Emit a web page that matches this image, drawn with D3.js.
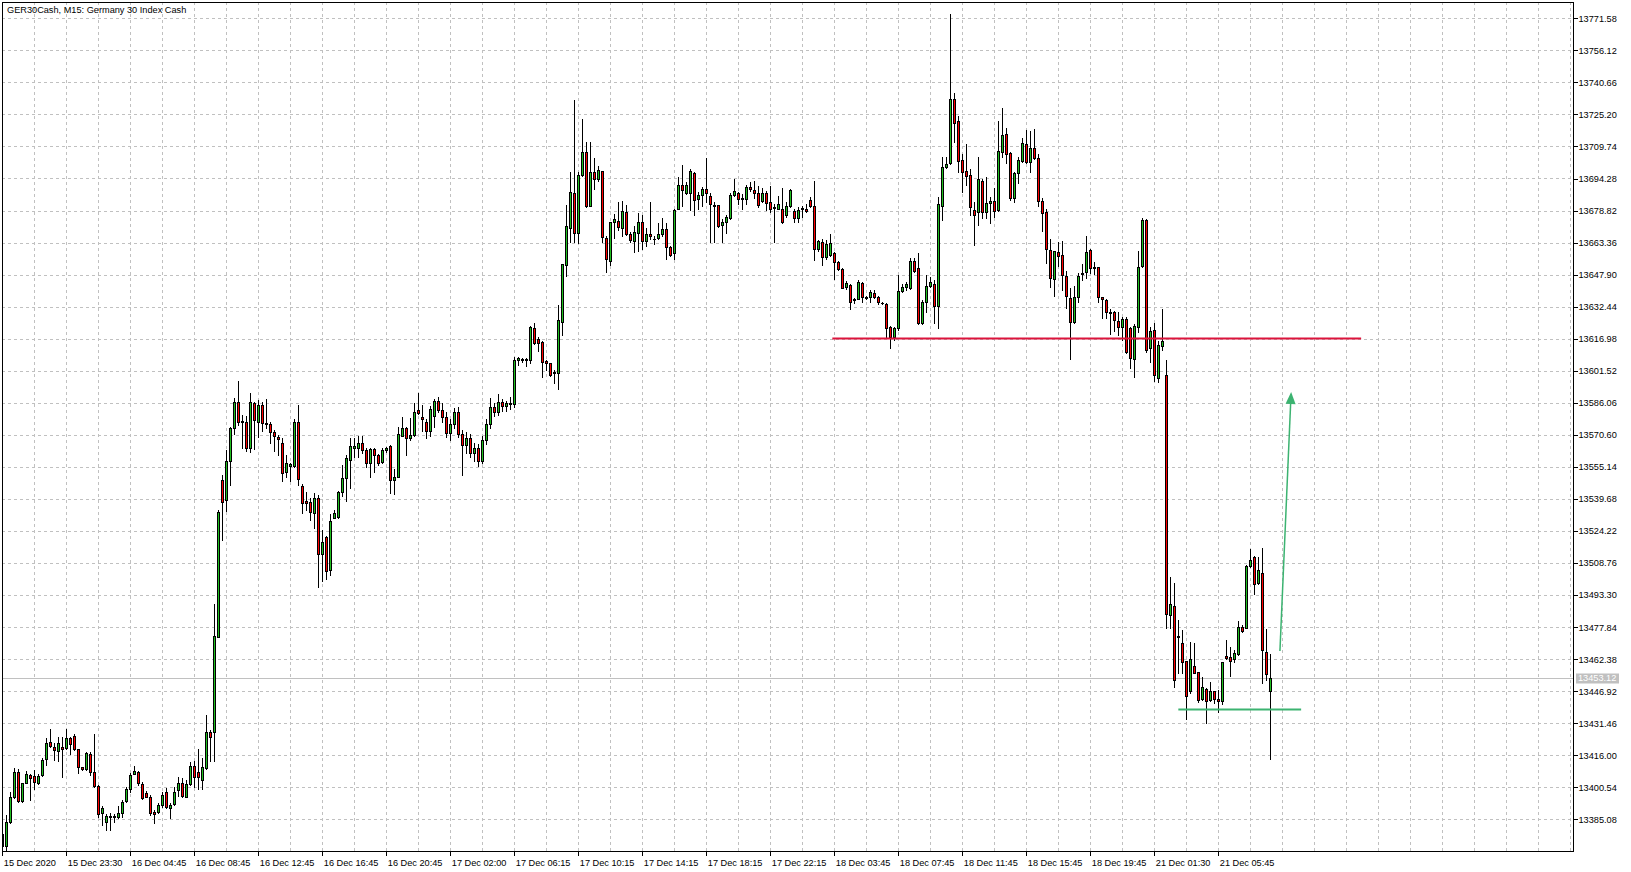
<!DOCTYPE html>
<html><head><meta charset="utf-8">
<script src="https://cdn.jsdelivr.net/npm/d3@7"></script>
<style>
html,body{margin:0;padding:0;background:#fff;overflow:hidden}
svg{display:block}
text{font-family:"Liberation Sans",Arial,sans-serif;font-size:9.2px;fill:#000}
</style>
</head><body><svg id="c" width="1631" height="872"></svg>
<script>
const title = "GER30Cash, M15:  Germany 30 Index Cash";
const opens = [13378.0,13372.0,13383.9,13395.7,13407.7,13393.9,13402.8,13406.5,13405.8,13402.8,13406.5,13414.2,13422.2,13420.1,13418.2,13419.8,13419.3,13424.2,13425.3,13418.8,13410.2,13409.4,13416.4,13408.1,13401.3,13388.0,13384.0,13386.8,13386.6,13386.0,13388.0,13393.9,13399.5,13407.0,13408.1,13402.0,13397.9,13396.0,13388.4,13388.8,13392.0,13398.4,13390.6,13392.3,13399.2,13402.4,13396.0,13402.0,13410.8,13408.1,13404.1,13409.7,13427.0,13427.4,13473.2,13548.8,13539.2,13558.1,13573.7,13586.3,13577.3,13577.0,13564.4,13585.8,13577.0,13585.0,13576.2,13575.7,13571.8,13569.4,13566.5,13552.5,13555.7,13555.7,13576.6,13546.1,13538.7,13538.0,13532.7,13540.0,13512.9,13521.5,13505.4,13530.3,13530.8,13543.2,13549.6,13558.5,13564.4,13564.4,13566.5,13563.3,13556.9,13563.6,13560.9,13557.3,13563.3,13565.2,13548.8,13550.4,13570.2,13573.7,13568.9,13570.4,13582.6,13579.4,13576.6,13572.6,13579.7,13586.9,13582.6,13579.0,13571.5,13576.0,13581.5,13571.0,13565.5,13569.0,13562.0,13564.0,13558.0,13568.0,13576.0,13584.0,13581.5,13586.5,13584.5,13586.0,13585.5,13606.5,13607.3,13606.9,13606.5,13622.3,13617.0,13615.6,13606.2,13605.1,13600.9,13600.6,13625.2,13652.6,13670.6,13687.1,13668.1,13695.9,13707.3,13681.1,13697.2,13694.0,13697.7,13665.8,13654.5,13673.1,13674.0,13670.6,13678.0,13667.4,13663.9,13668.2,13673.1,13664.2,13667.4,13665.3,13665.8,13667.4,13670.1,13661.0,13658.1,13679.8,13691.1,13687.1,13687.5,13696.9,13684.3,13686.4,13689.1,13685.9,13681.4,13681.4,13671.7,13673.5,13675.0,13686.4,13687.5,13684.9,13684.6,13690.4,13688.6,13687.5,13683.2,13687.5,13682.7,13680.3,13679.8,13679.5,13676.6,13681.1,13678.4,13675.3,13679.5,13679.8,13683.8,13680.8,13660.2,13663.4,13656.6,13657.3,13658.1,13654.2,13650.5,13642.1,13642.9,13635.5,13636.3,13644.0,13636.9,13636.9,13638.9,13636.9,13634.4,13633.7,13622.8,13618.0,13622.0,13640.2,13642.1,13641.3,13654.5,13650.9,13624.7,13634.5,13642.6,13643.2,13632.8,13681.2,13700.0,13701.6,13732.5,13722.0,13703.2,13697.9,13696.0,13679.1,13678.0,13693.1,13678.3,13682.3,13683.6,13679.1,13707.2,13715.6,13706.8,13685.0,13696.8,13702.9,13710.8,13702.4,13708.8,13704.0,13683.6,13678.0,13659.8,13645.6,13659.0,13657.2,13647.4,13636.5,13625.2,13637.3,13648.3,13649.0,13659.8,13651.7,13651.4,13637.0,13635.7,13629.9,13629.7,13625.5,13622.8,13626.5,13622.0,13607.2,13622.8,13652.2,13674.3,13612.7,13621.2,13598.0,13613.6,13599.5,13483.7,13488.0,13473.5,13470.0,13461.5,13447.2,13459.1,13456.0,13443.0,13448.0,13442.7,13447.0,13443.1,13442.3,13463.9,13463.3,13462.4,13464.7,13478.0,13477.2,13507.3,13511.5,13499.3,13503.8,13465.7,13447.1];
const highs = [13380.0,13387.2,13398.4,13410.0,13409.4,13402.8,13408.4,13406.8,13408.9,13406.8,13414.8,13424.5,13428.7,13421.7,13425.0,13424.6,13428.7,13425.0,13426.1,13419.2,13410.5,13417.6,13417.7,13426.2,13401.5,13391.5,13387.5,13388.0,13387.6,13391.5,13394.4,13400.8,13407.6,13410.8,13408.5,13403.2,13398.9,13396.6,13389.6,13392.8,13398.4,13400.0,13392.8,13400.5,13405.3,13404.9,13404.1,13412.6,13413.4,13419.0,13414.5,13435.4,13428.2,13488.8,13534.3,13551.2,13563.3,13574.5,13588.5,13596.6,13580.2,13579.7,13590.6,13586.6,13587.4,13586.6,13587.9,13577.0,13572.9,13570.5,13568.9,13560.9,13556.9,13578.2,13585.0,13546.7,13543.2,13540.0,13542.4,13541.6,13524.7,13522.0,13532.4,13534.3,13543.7,13556.1,13560.9,13568.9,13568.9,13570.0,13570.0,13564.1,13564.4,13564.1,13561.4,13564.1,13564.9,13565.7,13554.1,13574.5,13579.4,13574.5,13578.6,13585.8,13590.9,13585.0,13578.1,13584.7,13587.7,13589.0,13586.0,13581.5,13578.0,13583.5,13584.0,13573.0,13572.0,13571.0,13566.5,13566.0,13570.0,13578.0,13588.2,13586.0,13590.3,13588.0,13587.0,13588.7,13608.3,13608.3,13607.5,13607.5,13623.1,13624.4,13617.8,13615.9,13606.5,13605.4,13601.7,13633.1,13653.2,13681.4,13697.2,13732.1,13697.2,13723.0,13712.0,13711.7,13704.4,13700.4,13698.0,13666.3,13673.5,13677.1,13682.7,13683.2,13681.4,13668.7,13671.4,13677.4,13676.9,13670.3,13682.7,13666.6,13672.6,13675.0,13672.6,13661.8,13679.5,13694.8,13700.7,13692.4,13699.1,13697.5,13687.9,13690.4,13704.4,13687.1,13682.7,13681.6,13674.7,13676.6,13687.5,13694.0,13687.9,13686.7,13691.1,13692.7,13693.2,13690.7,13689.9,13688.3,13690.7,13682.2,13685.9,13689.9,13683.0,13689.1,13679.5,13680.3,13681.1,13681.9,13685.4,13693.2,13664.7,13665.3,13664.7,13667.4,13658.6,13654.5,13651.0,13644.9,13643.2,13636.8,13645.2,13644.5,13637.6,13640.5,13640.5,13637.6,13634.9,13634.1,13623.1,13622.8,13647.7,13643.4,13644.5,13656.1,13655.8,13658.2,13635.7,13647.7,13646.9,13645.3,13685.5,13704.8,13704.8,13773.7,13735.7,13724.4,13705.9,13710.8,13698.7,13683.1,13704.5,13694.1,13695.2,13685.2,13689.5,13722.0,13728.1,13718.5,13707.2,13697.6,13704.8,13713.7,13717.7,13717.2,13718.2,13706.1,13684.7,13679.6,13664.9,13659.5,13663.8,13664.3,13649.8,13641.3,13642.4,13648.9,13653.0,13666.5,13660.1,13654.2,13651.7,13637.3,13636.2,13631.2,13630.4,13629.7,13627.6,13627.6,13622.5,13623.9,13659.5,13675.1,13674.6,13622.8,13624.4,13616.0,13631.3,13606.7,13501.8,13499.0,13481.3,13476.4,13461.5,13470.5,13470.0,13456.3,13453.9,13448.3,13451.5,13447.0,13447.5,13461.2,13471.6,13468.4,13466.8,13480.9,13478.8,13507.8,13515.4,13512.1,13511.8,13515.8,13476.8,13464.9];
const lows = [13370.0,13370.5,13383.5,13395.2,13393.6,13393.6,13402.4,13394.4,13399.7,13402.1,13406.1,13411.3,13420.1,13413.7,13413.4,13405.3,13419.0,13416.6,13418.5,13407.3,13408.8,13409.0,13406.5,13400.8,13386.4,13382.3,13379.9,13379.9,13384.0,13385.5,13386.0,13393.3,13398.4,13406.8,13401.6,13394.9,13395.7,13387.1,13383.5,13388.3,13391.2,13390.4,13385.9,13392.0,13396.5,13396.0,13396.0,13401.6,13400.8,13399.6,13399.6,13409.4,13413.2,13413.2,13473.2,13519.9,13533.9,13546.4,13571.0,13575.4,13564.1,13563.0,13562.5,13563.8,13569.7,13572.5,13573.7,13566.5,13562.8,13560.9,13548.3,13550.4,13548.5,13555.2,13546.4,13533.1,13534.3,13529.5,13525.5,13497.3,13500.2,13500.9,13503.0,13530.3,13530.3,13541.1,13538.9,13544.8,13559.8,13559.8,13561.7,13555.2,13550.4,13552.5,13556.1,13556.9,13562.5,13542.4,13541.9,13550.1,13570.0,13560.9,13568.1,13570.0,13580.7,13572.6,13569.2,13570.0,13574.5,13581.8,13577.0,13569.5,13568.0,13574.0,13569.5,13551.0,13562.0,13560.0,13558.0,13555.5,13557.0,13566.0,13574.0,13579.5,13580.0,13582.0,13582.0,13583.0,13584.0,13604.3,13605.9,13603.8,13605.1,13614.3,13611.1,13598.5,13601.7,13599.0,13595.8,13592.9,13618.8,13647.0,13663.7,13663.4,13663.1,13695.6,13680.3,13680.8,13689.1,13693.2,13663.7,13649.4,13652.6,13665.8,13669.3,13666.6,13666.9,13663.4,13658.6,13659.4,13660.5,13661.8,13665.3,13662.6,13665.3,13666.6,13655.3,13656.9,13655.3,13679.5,13681.1,13686.7,13679.0,13676.6,13679.5,13681.1,13682.7,13663.4,13663.4,13671.1,13663.4,13668.2,13674.7,13685.9,13681.9,13679.8,13681.9,13688.3,13685.1,13680.3,13682.7,13679.2,13677.9,13663.4,13679.5,13672.6,13675.5,13680.3,13673.1,13673.1,13675.5,13677.9,13680.3,13655.0,13659.4,13652.6,13655.3,13656.9,13645.7,13650.2,13641.6,13641.1,13631.2,13634.4,13636.0,13634.9,13636.1,13634.9,13636.5,13633.7,13633.7,13618.0,13612.7,13616.4,13621.2,13639.7,13640.5,13641.0,13649.3,13623.9,13624.1,13630.0,13642.1,13624.4,13622.0,13674.3,13699.2,13701.3,13712.1,13697.6,13687.9,13691.1,13676.7,13662.2,13671.9,13675.1,13675.4,13673.0,13675.9,13678.6,13704.8,13701.6,13683.9,13683.1,13692.3,13702.4,13701.6,13697.6,13703.5,13681.0,13669.0,13653.4,13642.1,13637.6,13652.1,13640.5,13631.6,13607.2,13624.7,13634.9,13645.3,13646.1,13648.5,13648.2,13634.9,13626.8,13626.8,13619.1,13620.9,13618.8,13616.4,13610.2,13603.0,13598.3,13620.4,13651.7,13610.7,13605.9,13596.5,13596.0,13611.5,13477.6,13477.6,13449.1,13455.9,13455.9,13433.5,13445.9,13455.5,13441.9,13442.7,13431.4,13442.2,13441.1,13436.7,13440.6,13462.4,13454.4,13461.2,13464.4,13475.6,13477.2,13507.0,13493.8,13498.6,13450.7,13452.3,13414.0];
const closes = [13372.0,13383.9,13395.7,13407.8,13394.1,13402.4,13406.8,13404.9,13402.9,13405.8,13413.7,13421.7,13420.6,13418.4,13421.7,13418.8,13424.5,13421.3,13418.8,13410.2,13409.2,13417.2,13408.1,13401.1,13387.6,13390.4,13386.8,13386.0,13386.0,13388.0,13393.6,13399.7,13406.5,13408.6,13402.4,13395.2,13396.0,13388.0,13387.6,13392.0,13396.8,13390.9,13392.0,13398.1,13402.8,13396.5,13402.0,13411.0,13405.7,13405.7,13410.2,13427.0,13425.0,13473.7,13533.5,13538.4,13558.0,13573.7,13586.3,13577.0,13576.6,13564.4,13586.6,13577.8,13585.0,13576.2,13575.7,13571.8,13570.0,13568.4,13552.0,13556.9,13556.3,13576.6,13549.1,13537.6,13537.6,13533.2,13540.0,13512.9,13518.7,13505.1,13529.2,13532.7,13543.2,13549.6,13559.3,13565.2,13565.2,13566.5,13563.3,13556.9,13563.8,13560.9,13557.2,13563.3,13564.1,13548.8,13550.1,13570.8,13573.7,13568.9,13570.5,13581.5,13581.0,13578.1,13572.5,13583.1,13586.9,13582.6,13579.0,13571.5,13576.0,13581.5,13571.0,13565.5,13569.0,13562.0,13564.0,13558.0,13568.0,13576.0,13584.0,13581.5,13586.5,13584.5,13586.0,13585.5,13606.5,13607.5,13606.9,13607.2,13622.8,13615.1,13615.1,13605.7,13605.4,13599.6,13600.3,13625.9,13652.8,13671.3,13688.0,13668.2,13696.2,13707.0,13681.1,13697.2,13694.0,13698.6,13666.1,13655.2,13673.1,13674.5,13670.9,13678.4,13667.4,13664.7,13668.4,13673.1,13664.2,13667.4,13666.3,13665.0,13667.4,13670.1,13661.0,13657.4,13679.0,13691.1,13688.8,13691.1,13697.8,13683.8,13686.4,13689.1,13687.2,13681.9,13681.1,13671.4,13673.5,13675.8,13686.3,13688.2,13684.6,13684.6,13690.4,13689.1,13687.5,13681.6,13687.5,13682.4,13679.8,13680.0,13682.2,13673.1,13681.1,13688.7,13675.0,13679.0,13680.0,13678.4,13680.8,13660.5,13663.9,13656.5,13662.9,13663.1,13654.2,13650.8,13641.6,13643.7,13634.9,13636.0,13644.1,13636.9,13636.5,13639.4,13637.3,13634.5,13634.0,13622.3,13618.0,13622.0,13640.2,13641.8,13643.4,13654.5,13649.8,13624.4,13634.9,13642.6,13644.5,13632.8,13681.8,13700.0,13701.3,13732.5,13720.9,13702.9,13697.6,13695.7,13680.4,13676.7,13693.9,13678.3,13682.3,13683.6,13678.8,13707.6,13715.3,13705.9,13684.7,13696.8,13703.2,13711.3,13702.4,13708.8,13704.0,13683.6,13677.5,13660.1,13646.1,13659.3,13656.9,13647.6,13637.8,13625.2,13636.9,13647.4,13648.5,13659.0,13650.9,13651.3,13637.0,13636.0,13629.7,13629.6,13626.0,13622.8,13626.5,13610.7,13607.8,13623.3,13651.4,13674.3,13611.5,13620.7,13599.5,13614.0,13615.9,13484.0,13488.8,13452.3,13473.2,13461.2,13444.8,13462.4,13455.9,13442.7,13448.8,13442.3,13447.0,13443.0,13442.3,13460.8,13462.8,13461.6,13465.2,13477.7,13475.9,13507.3,13510.2,13498.5,13505.4,13466.8,13455.2,13453.1];
const yTickValues = [13771.58,13756.12,13740.66,13725.20,13709.74,13694.28,13678.82,13663.36,13647.90,13632.44,13616.98,13601.52,13586.06,13570.60,13555.14,13539.68,13524.22,13508.76,13493.30,13477.84,13462.38,13446.92,13431.46,13416.00,13400.54,13385.08];
const xTickBars = [0,16,32,48,64,80,96,112,128,144,160,176,192,208,224,240,256,272,288,304];
const xTickLabels = ["15 Dec 2020","15 Dec 23:30","16 Dec 04:45","16 Dec 08:45","16 Dec 12:45","16 Dec 16:45","16 Dec 20:45","17 Dec 02:00","17 Dec 06:15","17 Dec 10:15","17 Dec 14:15","17 Dec 18:15","17 Dec 22:15","18 Dec 03:45","18 Dec 07:45","18 Dec 11:45","18 Dec 15:45","18 Dec 19:45","21 Dec 01:30","21 Dec 05:45"];
const lastPrice = 13453.12;
const resistance = {price: 13617.2, fromBar: 207.5, toBar: 339.7};
const support = {price: 13438.3, fromBar: 294.0, toBar: 324.7};
const arrowStart = {bar: 319.4, price: 13466.3};
const arrowEnd = {bar: 322.2, price: 13591.3};

const W = 1631, H = 872;
const plot = {left: 2, right: 1573, top: 2, bottom: 851};
const barStep = 4, firstBarX = 2.33;
const visibleBars = (plot.right - firstBarX) / barStep;
const x = d3.scaleLinear().domain([0, visibleBars]).range([firstBarX, plot.right]);
const y = d3.scaleLinear().domain([yTickValues[yTickValues.length - 1], yTickValues[0]]).range([819.3, 18.3]);
const px = v => Math.round(v) + 0.5;

const bull = "#1fbf1f", bear = "#ff0000", gridC = "#c0c0c0";
const svg = d3.select("#c");
svg.append("rect").attr("width", W).attr("height", H).attr("fill", "#fff");
svg.append("defs").append("clipPath").attr("id", "pc").append("rect")
  .attr("x", plot.left + 0.5).attr("y", plot.top + 0.5)
  .attr("width", plot.right - plot.left).attr("height", plot.bottom - plot.top);

// grid
const grid = svg.append("g").attr("stroke", gridC).attr("stroke-dasharray", "3,3")
  .attr("shape-rendering", "crispEdges").attr("fill", "none");
grid.selectAll("line.h").data(yTickValues).join("line").attr("class", "h")
  .attr("x1", plot.left).attr("x2", plot.right)
  .attr("y1", d => px(y(d))).attr("y2", d => px(y(d)));
grid.selectAll("line.v").data(d3.range(8, visibleBars, 8)).join("line").attr("class", "v")
  .attr("x1", d => px(x(d))).attr("x2", d => px(x(d)))
  .attr("y1", plot.top).attr("y2", plot.bottom);

// last price line
svg.append("line").attr("x1", plot.left).attr("x2", plot.right)
  .attr("y1", px(y(lastPrice))).attr("y2", px(y(lastPrice)))
  .attr("stroke", gridC).attr("shape-rendering", "crispEdges");

// candles
const bars = d3.range(opens.length).map(i => ({i, o: opens[i], h: highs[i], l: lows[i], c: closes[i]}));
const cg = svg.append("g").attr("clip-path", "url(#pc)").attr("shape-rendering", "crispEdges");
cg.selectAll("line.wick").data(bars).join("line").attr("class", "wick")
  .attr("x1", d => px(x(d.i))).attr("x2", d => px(x(d.i)))
  .attr("y1", d => Math.round(y(d.h))).attr("y2", d => Math.round(y(d.l)) + 1)
  .attr("stroke", "#000");
bars.forEach(d => {
  const cx = Math.round(x(d.i));
  const yt = Math.round(y(Math.max(d.o, d.c))), yb = Math.round(y(Math.min(d.o, d.c)));
  if (yb - yt < 1) {
    cg.append("line").attr("x1", cx - 1).attr("x2", cx + 2).attr("y1", yt + 0.5).attr("y2", yt + 0.5).attr("stroke", "#000");
  } else {
    cg.append("rect").attr("x", cx - 0.5).attr("y", yt + 0.5).attr("width", 2).attr("height", yb - yt)
      .attr("fill", d.c >= d.o ? bull : bear).attr("stroke", "#000");
  }
});

// annotations
svg.append("line").attr("x1", x(resistance.fromBar)).attr("x2", x(resistance.toBar))
  .attr("y1", Math.round(y(resistance.price)) + 0.5).attr("y2", Math.round(y(resistance.price)) + 0.5)
  .attr("stroke", "#dc143c").attr("stroke-width", 2);
svg.append("line").attr("x1", x(support.fromBar)).attr("x2", x(support.toBar))
  .attr("y1", Math.round(y(support.price)) + 0.5).attr("y2", Math.round(y(support.price)) + 0.5)
  .attr("stroke", "#3cb371").attr("stroke-width", 2);
{
  const x0 = x(arrowStart.bar), y0 = y(arrowStart.price), x1 = x(arrowEnd.bar), y1 = y(arrowEnd.price);
  const len = Math.hypot(x1 - x0, y1 - y0), ux = (x1 - x0) / len, uy = (y1 - y0) / len;
  const hl = 12, hw = 5;
  const bx = x1 - ux * hl, by = y1 - uy * hl;
  svg.append("line").attr("x1", x0).attr("y1", y0).attr("x2", bx).attr("y2", by)
    .attr("stroke", "#3cb371").attr("stroke-width", 1.5);
  svg.append("path").attr("d", `M${x1},${y1}L${bx - uy * hw},${by + ux * hw}L${bx + uy * hw},${by - ux * hw}Z`)
    .attr("fill", "#3cb371");
}

// frame
svg.append("rect").attr("x", plot.left + 0.5).attr("y", plot.top + 0.5)
  .attr("width", plot.right - plot.left).attr("height", plot.bottom - plot.top)
  .attr("fill", "none").attr("stroke", "#000").attr("shape-rendering", "crispEdges");

// axes
const ya = svg.append("g").attr("transform", `translate(${plot.right + 0.5},0)`)
  .call(d3.axisRight(y).tickValues(yTickValues).tickFormat(d3.format(".2f")).tickSize(4).tickPadding(1));
ya.select(".domain").remove();
ya.selectAll("line").attr("shape-rendering", "crispEdges").attr("stroke", "#000");
ya.selectAll("text").attr("font-size", null).attr("font-family", null).style("fill", "#000");
ya.attr("font-size", null).attr("font-family", null);

const xa = svg.append("g").attr("transform", `translate(0,${plot.bottom + 0.5})`)
  .call(d3.axisBottom(x).tickValues(xTickBars).tickFormat((d, i) => xTickLabels[i]).tickSize(4).tickPadding(4));
xa.select(".domain").remove();
xa.selectAll("line").attr("shape-rendering", "crispEdges").attr("stroke", "#000");
xa.selectAll("text").attr("text-anchor", "start").attr("x", 1).style("fill", "#000");
xa.attr("font-size", null).attr("font-family", null);

// price label
const ly = Math.round(y(lastPrice));
svg.append("rect").attr("x", plot.right + 3).attr("y", ly - 4.5).attr("width", 43).attr("height", 10).attr("fill", gridC);
svg.append("text").attr("x", plot.right + 5).attr("y", ly + 0.5).attr("dy", "0.32em").style("fill", "#fff")
  .text(d3.format(".2f")(lastPrice));

// title
svg.append("text").attr("x", 7).attr("y", 13.3).text(title);
</script>
</body></html>
